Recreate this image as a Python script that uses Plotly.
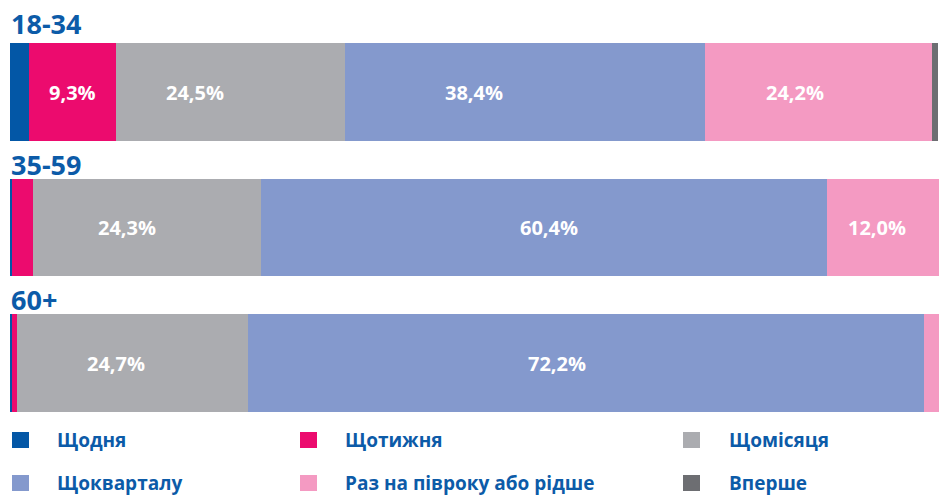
import plotly.graph_objects as go

groups = ["18-34", "35-59", "60+"]
series = ["Щодня", "Щотижня", "Щомісяця", "Щокварталу", "Раз на півроку або рідше", "Вперше"]
values = {
    "Щодня": [2.0, 0.2, 0.2],
    "Щотижня": [9.3, 2.3, 0.5],
    "Щомісяця": [24.5, 24.3, 24.7],
    "Щокварталу": [38.4, 60.4, 72.2],
    "Раз на півроку або рідше": [24.2, 12.0, 1.6],
    "Вперше": [0.7, 0.0, 0.0],
}
colors = ["#0357A6", "#EC0B6E", "#ABACB0", "#8499CD", "#F49AC2", "#6D6E72"]

# style only: horizontal pixel nudges of the value labels (as placed in the original)
label_shift = {
    "Щотижня": [0, 0, 0],
    "Щомісяця": [-36, -20, -16],
    "Щокварталу": [-51, 5, -29],
    "Раз на півроку або рідше": [-23, -6, 0],
}

FONT = "Open Sans"
TEXT_BLUE = "#0C5BA8"

W, H = 939, 495
L = 10  # left margin in px
PW = W - L

def px(x):  # page x pixel -> paper x
    return (x - L) / PW

def py(y):  # page y pixel -> paper y
    return 1 - y / H

ypos = [0, 1, 2]

fig = go.Figure()
for name, col in zip(series, colors):
    fig.add_trace(go.Bar(
        x=values[name], y=ypos, orientation="h", name=name,
        marker=dict(color=col, line=dict(width=0)),
        width=0.72, showlegend=False, hoverinfo="skip",
    ))

# value labels at the centre of each segment (computed from the data)
cum = [0.0, 0.0, 0.0]
for name in series:
    vals = values[name]
    for r, v in enumerate(vals):
        if v >= 5:
            fig.add_annotation(
                x=cum[r] + v / 2, y=ypos[r], xref="x", yref="y",
                text=f"{v:.1f}%".replace(".", ","), showarrow=False,
                xanchor="center", yanchor="middle",
                xshift=label_shift.get(name, [0, 0, 0])[r],
                font=dict(family=FONT, size=20, color="white", weight="bold"),
            )
        cum[r] += v

px_per_unit = 135.5
c0 = 92
top = -c0 / px_per_unit
bottom = (H - c0) / px_per_unit

fig.update_layout(
    barmode="stack",
    width=W, height=H,
    margin=dict(l=L, r=0, t=0, b=0),
    paper_bgcolor="white", plot_bgcolor="white",
    xaxis=dict(range=[0, 99.2], visible=False, fixedrange=True),
    yaxis=dict(range=[bottom, top], visible=False, fixedrange=True),
    font=dict(family=FONT),
)

# group titles above each bar
title_y = [24, 164, 299]
for g, ty in zip(groups, title_y):
    fig.add_annotation(
        x=px(9), y=py(ty), xref="paper", yref="paper", text=g, showarrow=False,
        xanchor="left", yanchor="middle",
        font=dict(family=FONT, size=27, color=TEXT_BLUE, weight="bold"),
    )

# manual legend (3 columns x 2 rows)
sq_x = [12, 300, 683]
tx_x = [55, 343, 727]
row_y = [440, 483]
for i, (name, col) in enumerate(zip(series, colors)):
    c = i % 3
    cy = row_y[i // 3]
    fig.add_shape(type="rect", xref="paper", yref="paper",
                  x0=px(sq_x[c]), x1=px(sq_x[c] + 17),
                  y0=py(cy + 8), y1=py(cy - 8),
                  fillcolor=col, line=dict(width=0), layer="above")
    fig.add_annotation(
        x=px(tx_x[c]), y=py(cy), xref="paper", yref="paper",
        text=name, showarrow=False, xanchor="left", yanchor="middle",
        font=dict(family=FONT, size=19, color=TEXT_BLUE, weight="bold"),
    )

fig.write_html(
    "out.html",
    config={"displayModeBar": False},
    post_script="document.body.style.margin='0';document.body.style.overflow='hidden';",
)
